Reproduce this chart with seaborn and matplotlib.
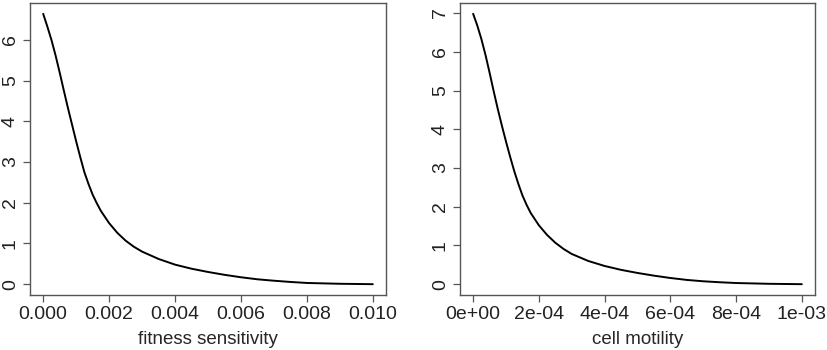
import matplotlib
matplotlib.use("Agg")
import matplotlib.pyplot as plt
import seaborn as sns
import pandas as pd

# left panel: fitness sensitivity
fit_x = [0.0, 0.000125, 0.00025, 0.000375, 0.0005, 0.000625, 0.00075, 0.000875, 0.001,
         0.001125, 0.00125, 0.001375, 0.0015, 0.001625, 0.00175, 0.002, 0.00225,
         0.0025, 0.00275, 0.003, 0.0035, 0.004, 0.0045, 0.005, 0.0055, 0.006,
         0.0065, 0.007, 0.0075, 0.008, 0.009, 0.010]
fit_y = [6.64, 6.33, 6.00, 5.62, 5.20, 4.76, 4.33, 3.92, 3.51,
         3.12, 2.75, 2.46, 2.20, 1.99, 1.80, 1.50, 1.26,
         1.07, 0.92, 0.80, 0.62, 0.48, 0.38, 0.30, 0.23, 0.17,
         0.12, 0.085, 0.055, 0.03, 0.01, 0.0]

# right panel: cell motility
mot_x = [0.0, 0.125e-4, 0.25e-4, 0.375e-4, 0.5e-4, 0.625e-4, 0.75e-4, 0.875e-4, 1e-4,
         1.125e-4, 1.25e-4, 1.375e-4, 1.5e-4, 1.625e-4, 1.75e-4, 2e-4, 2.25e-4,
         2.5e-4, 2.75e-4, 3e-4, 3.5e-4, 4e-4, 4.5e-4, 5e-4, 5.5e-4, 6e-4,
         6.5e-4, 7e-4, 7.5e-4, 8e-4, 9e-4, 1e-3]
mot_y = [6.98, 6.68, 6.33, 5.92, 5.46, 4.98, 4.52, 4.09, 3.68,
         3.29, 2.92, 2.59, 2.29, 2.05, 1.84, 1.52, 1.27,
         1.07, 0.91, 0.78, 0.60, 0.47, 0.37, 0.29, 0.22, 0.16,
         0.11, 0.075, 0.05, 0.03, 0.01, 0.0]

fit_ticks = [0.0, 0.002, 0.004, 0.006, 0.008, 0.010]
fit_labels = ["0.000", "0.002", "0.004", "0.006", "0.008", "0.010"]
mot_ticks = [0.0, 2e-4, 4e-4, 6e-4, 8e-4, 1e-3]
mot_labels = ["0e+00", "2e-04", "4e-04", "6e-04", "8e-04", "1e-03"]

sns.set_theme(style="white")
plt.rcParams['font.family'] = ['Liberation Sans', 'DejaVu Sans']

fig = plt.figure(figsize=(8.27, 3.5), dpi=100)
ax1 = fig.add_axes([30 / 827, 1 - 295 / 350, 356 / 827, 292 / 350])
ax2 = fig.add_axes([460 / 827, 1 - 295 / 350, 355 / 827, 292 / 350])

panels = [
    (ax1, fit_x, fit_y, fit_ticks, fit_labels, range(0, 7), "fitness sensitivity"),
    (ax2, mot_x, mot_y, mot_ticks, mot_labels, range(0, 8), "cell motility"),
]

for ax, xs, ys, xt, xl, yt, label in panels:
    df = pd.DataFrame({"x": xs, "y": ys})
    sns.lineplot(data=df, x="x", y="y", ax=ax, color="black", linewidth=1.4)
    span = max(xs) - min(xs)
    ax.set_xlim(min(xs) - 0.04 * span, max(xs) + 0.04 * span)
    yspan = max(ys) - min(ys)
    ax.set_ylim(min(ys) - 0.04 * yspan, max(ys) + 0.04 * yspan)
    ax.set_xticks(xt)
    ax.set_xticklabels(xl)
    ax.set_yticks(list(yt))
    ax.set_yticklabels([str(v) for v in yt], rotation=90, va="center")
    ax.set_xlabel(label, fontsize=13.5, labelpad=6)
    ax.set_ylabel("")
    for s in ax.spines.values():
        s.set_visible(True)
        s.set_color("#555555")
        s.set_linewidth(1.0)
    ax.tick_params(axis="both", direction="out", length=5, width=0.9,
                   color="#555555", labelsize=14, labelcolor="#222222",
                   bottom=True, left=True)
    ax.tick_params(axis="x", pad=3)
    ax.tick_params(axis="y", pad=3)

fig.savefig("out.png", dpi=100)
